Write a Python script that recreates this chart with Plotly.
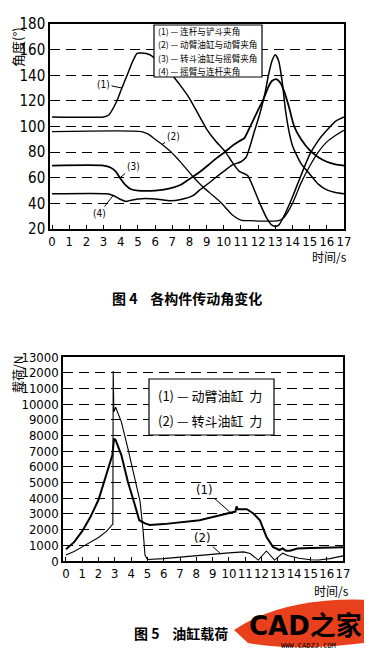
import plotly.graph_objects as go

W, H = 372, 652

# ---------------- Figure 4 data: angles (deg) vs time (s) ----------------
t1 = [0, 3.0, 3.3, 3.76, 4.05, 4.34, 4.7, 4.95, 5.2, 5.7, 6.0, 6.5, 7.0, 7.5, 8.0, 8.5, 9.0, 9.5, 10.1, 10.5, 10.9,
      11.15, 11.4, 11.7, 12.1, 12.5, 12.8, 13.0, 13.2, 13.5, 14.0, 14.5, 15.0, 15.5, 16.0, 16.5, 17.0]
a1 = [107.5, 107.5, 109, 119.5, 129.5, 139, 151, 157, 157.3, 156, 153, 147, 140, 131.5, 122, 110, 98, 89, 80, 72, 65,
      63.5, 61.5, 53, 40, 28.5, 23, 22, 23, 30, 45, 62, 78, 89, 97, 104, 107.5]

t2 = [0, 5.2, 5.6, 6.0, 6.5, 6.9, 7.5, 8.2, 8.7, 9.2, 9.8, 10.5, 11.0, 11.5, 13.2, 13.5, 14.0, 14.5, 15.0, 15.5,
      16.0, 16.5, 17.0]
a2 = [96, 96, 94, 90, 85, 80.5, 72, 61, 54, 48, 41, 31, 27, 26.5, 26.5, 29, 40, 56, 69, 80, 88, 93, 97]

t3 = [0, 3.0, 3.4, 3.7, 4.0, 4.3, 4.6, 5.0, 6.0, 6.8, 7.5, 8.1, 8.6, 9.1, 9.6, 10.1, 10.5, 10.9, 11.2, 11.5, 12.0,
      12.3, 12.6, 12.8, 13.05, 13.3, 13.5, 13.8, 14.1, 14.5, 15.0, 15.5, 16.0, 16.5, 17.0]
a3 = [69.5, 69.5, 68, 65, 59, 54, 51, 50, 50, 51.5, 54.5, 60, 64.5, 70, 75.5, 80.5, 85, 88.5, 91, 99, 113,
      121, 131, 135.5, 137, 134, 128, 115, 100, 90, 81.5, 76, 72.5, 70.5, 69.5]

t4 = [0, 3.2, 3.6, 4.0, 4.3, 4.6, 5.0, 6.0, 6.9, 7.5, 8.2, 8.6, 9.1, 9.6, 10.1, 10.5, 11.0, 11.3, 11.8, 12.1, 12.4,
      12.6, 12.8, 13.0, 13.2, 13.4, 13.6, 13.8, 14.0, 14.5, 15.0, 15.5, 16.0, 16.5, 17.0]
a4 = [47.5, 47.5, 46, 43, 41.5, 42.5, 43.5, 43.5, 42, 43, 46, 50.5, 55.5, 61, 66, 70, 72.5, 76, 97, 110, 126,
      140, 151, 156, 151, 135, 112, 96, 85, 71, 63, 55, 50.5, 48.5, 47.5]

legend4 = ["(1) — 连杆与铲斗夹角", "(2) — 动臂油缸与动臂夹角", "(3) — 转斗油缸与摇臂夹角", "(4) — 摇臂与连杆夹角"]

# ---------------- Figure 5 data: cylinder load (N) vs time (s) ----------------
tb1 = [0, 0.5, 1.0, 1.5, 2.0, 2.4, 2.7, 2.85, 2.95, 3.05, 3.4, 3.8, 4.23, 4.5, 4.85, 5.15, 6, 7, 8.2, 9.2, 10.25,
       10.4, 10.47, 10.55, 11.1, 11.5, 11.9, 12.3, 12.7, 13.1, 13.3, 13.5, 13.75, 14.2, 15, 16, 17]
fb1 = [750, 1200, 1900, 2800, 3900, 5200, 6300, 6750, 7800, 7700, 6750, 5050, 3570, 2600, 2400, 2300, 2350, 2450,
       2600, 2850, 3140, 3150, 3480, 3300, 3300, 3030, 2600, 1550, 900, 700, 800, 650, 650, 800, 830, 850, 870]

tb2 = [0, 0.5, 1.0, 1.5, 2.0, 2.5, 2.85, 2.88, 2.9, 2.94, 3.05, 3.4, 3.8, 4.23, 4.55, 4.74, 4.85, 5.0, 6, 7, 8, 9,
       10, 10.9, 11.3, 11.8, 12.3, 12.8, 13.3, 13.6, 14.3, 15.0, 15.5, 16.2, 17]
fb2 = [380, 600, 900, 1200, 1500, 1900, 2300, 2350, 12100, 9500, 9800, 8870, 7180, 5270, 3780, 1870, 380, 100,
       150, 250, 350, 450, 520, 580, 480, 60, 640, 60, 500, 350, 180, 80, 60, 150, 330]

legend5 = ["(1) — 动臂油缸  力", "(2) — 转斗油缸  力"]

x_ticks = list(range(0, 18))
y4_ticks = list(range(20, 181, 20))
y5_ticks = list(range(0, 13001, 1000))

NUM = "Liberation Sans Narrow, Arial Narrow, DejaVu Sans Condensed, Liberation Sans, sans-serif"
CJK = "Noto Sans CJK SC, sans-serif"

# the page body adds an 8px offset; compensate so positions match the reference pixels
OX, OY = 8, 8

def px(x):
    return (x - OX) / W

def py(y):
    return 1 - (y - OY) / H

fig = go.Figure()
for t, a, w in [(t1, a1, 1.5), (t2, a2, 1.3), (t3, a3, 1.8), (t4, a4, 1.5)]:
    fig.add_trace(go.Scatter(x=t, y=a, mode="lines", line=dict(color="black", width=w, shape="spline", smoothing=0.6),
                             showlegend=False, xaxis="x", yaxis="y", hoverinfo="skip"))
fig.add_trace(go.Scatter(x=tb1, y=fb1, mode="lines", line=dict(color="black", width=2), showlegend=False,
                         xaxis="x2", yaxis="y2", hoverinfo="skip"))
fig.add_trace(go.Scatter(x=tb2, y=fb2, mode="lines", line=dict(color="black", width=1.1), showlegend=False,
                         xaxis="x2", yaxis="y2", hoverinfo="skip"))

axis_common = dict(showline=True, mirror=True, linecolor="black", linewidth=1.5, zeroline=False, automargin=False)
grid = dict(showgrid=True, gridcolor="black", gridwidth=1.3, griddash="10px,6px")

fig.update_layout(
    template="none",
    width=W, height=H, margin=dict(l=0, r=0, t=0, b=0, autoexpand=False),
    paper_bgcolor="white", plot_bgcolor="white",
    xaxis=dict(domain=[px(50), px(344)], range=[-0.12, 17], tickvals=x_ticks, ticks="inside", ticklen=4,
               tickcolor="black", showgrid=False, tickangle=0, tickfont=dict(family=NUM, size=13, color="black"),
               anchor="y", **axis_common),
    yaxis=dict(domain=[py(229), py(24)], range=[20, 180], tickvals=y4_ticks, ticks="",
               tickfont=dict(family=NUM, size=15, color="black"), anchor="x", **grid, **axis_common),
    xaxis2=dict(domain=[px(63), px(343)], range=[-0.18, 17], tickvals=x_ticks, ticks="inside", ticklen=4,
                tickcolor="black", showgrid=False, tickangle=0, tickfont=dict(family=NUM, size=13, color="black"),
                anchor="y2", **axis_common),
    yaxis2=dict(domain=[py(561), py(357)], range=[0, 13000], tickvals=y5_ticks, tickformat="d", ticks="",
                tickfont=dict(family=NUM, size=13, color="black"), anchor="x2", **grid, **axis_common),
)

ann = []
# axis titles
ann.append(dict(xref="paper", yref="paper", x=px(18), y=py(47), xanchor="center", yanchor="middle",
                text="角度(°)", textangle=-90, showarrow=False, font=dict(family=CJK, size=13, color="black")))
ann.append(dict(xref="paper", yref="paper", x=px(17), y=py(375), xanchor="center", yanchor="middle",
                text="载荷/N", textangle=-90, showarrow=False, font=dict(family=CJK, size=12, color="black")))
ann.append(dict(xref="paper", yref="paper", x=px(329), y=py(256), xanchor="center", yanchor="middle",
                text="时间/s", showarrow=False, font=dict(family=CJK, size=12, color="black")))
ann.append(dict(xref="paper", yref="paper", x=px(331), y=py(590), xanchor="center", yanchor="middle",
                text="时间/s", showarrow=False, font=dict(family=CJK, size=12, color="black")))
# figure captions
ann.append(dict(xref="paper", yref="paper", x=px(187), y=py(298), xanchor="center", yanchor="middle",
                text="<b>图 4    各构件传动角变化</b>", showarrow=False, font=dict(family=CJK, size=14, color="black")))
ann.append(dict(xref="paper", yref="paper", x=px(132), y=py(633), xanchor="left", yanchor="middle",
                text="<b>图 5    油缸载荷</b>", showarrow=False, font=dict(family=CJK, size=14, color="black")))

shapes = []
# legend of figure 4: framed box with one text line per entry
shapes.append(dict(type="rect", xref="paper", yref="paper", x0=px(154), x1=px(262), y0=py(77), y1=py(25),
                   fillcolor="white", line=dict(color="black", width=1.2), layer="above"))
for i, txt in enumerate(legend4):
    ann.append(dict(xref="paper", yref="paper", x=px(156), y=py(31.5 + 13 * i), xanchor="left", yanchor="middle",
                    text=txt, showarrow=False, font=dict(family=CJK, size=8.6, color="black")))
# legend of figure 5
shapes.append(dict(type="rect", xref="paper", yref="paper", x0=px(149), x1=px(274), y0=py(435), y1=py(379),
                   fillcolor="white", line=dict(color="black", width=1.2), layer="above"))
for i, txt in enumerate(legend5):
    ann.append(dict(xref="paper", yref="paper", x=px(156), y=py(395 + 25 * i), xanchor="left", yanchor="middle",
                    text=txt, showarrow=False, font=dict(family=CJK, size=13, color="black")))

# curve labels with leader lines
for (tx, ty, hx, hy, lab) in [(3.0, 133, 4.08, 130, "(1)"), (7.05, 92, 6.4, 86, "(2)"),
                              (4.72, 68.5, 3.96, 60, "(3)"), (2.74, 32, 3.55, 46, "(4)")]:
    ann.append(dict(xref="x", yref="y", axref="x", ayref="y", x=hx, y=hy, ax=tx, ay=ty, text=lab,
                    showarrow=True, arrowhead=0, arrowwidth=1, arrowcolor="black",
                    font=dict(family=NUM, size=10, color="black")))
for (tx, ty, hx, hy, lab) in [(8.5, 4550, 10.06, 3120, "(1)"), (8.4, 1480, 9.45, 510, "(2)")]:
    ann.append(dict(xref="x2", yref="y2", axref="x2", ayref="y2", x=hx, y=hy, ax=tx, ay=ty, text=lab,
                    showarrow=True, arrowhead=0, arrowwidth=1, arrowcolor="black",
                    font=dict(family=NUM, size=13, color="black")))
# watermark
ann.append(dict(xref="paper", yref="paper", x=px(305), y=py(626), xanchor="center", yanchor="middle",
                text="<b>CAD之家</b>", showarrow=False,
                font=dict(family="DejaVu Sans, " + CJK, size=26, color="black")))
ann.append(dict(xref="paper", yref="paper", x=px(308), y=py(646), xanchor="center", yanchor="middle",
                text="WWW.CADZJ.COM", showarrow=False, font=dict(family="DejaVu Sans Mono", size=7, color="black")))

shapes.append(dict(type="path", xref="paper", yref="paper", layer="below",
                   path=f"M {px(234)} {py(630)} Q {px(285)} {py(596)} {px(372)} {py(600)} L {px(372)} {py(642)} "
                        f"Q {px(300)} {py(652)} {px(248)} {py(643)} Z",
                   fillcolor="#e8401c", line=dict(width=0)))

fig.update_layout(annotations=ann, shapes=shapes)
fig.write_html("out.html")
